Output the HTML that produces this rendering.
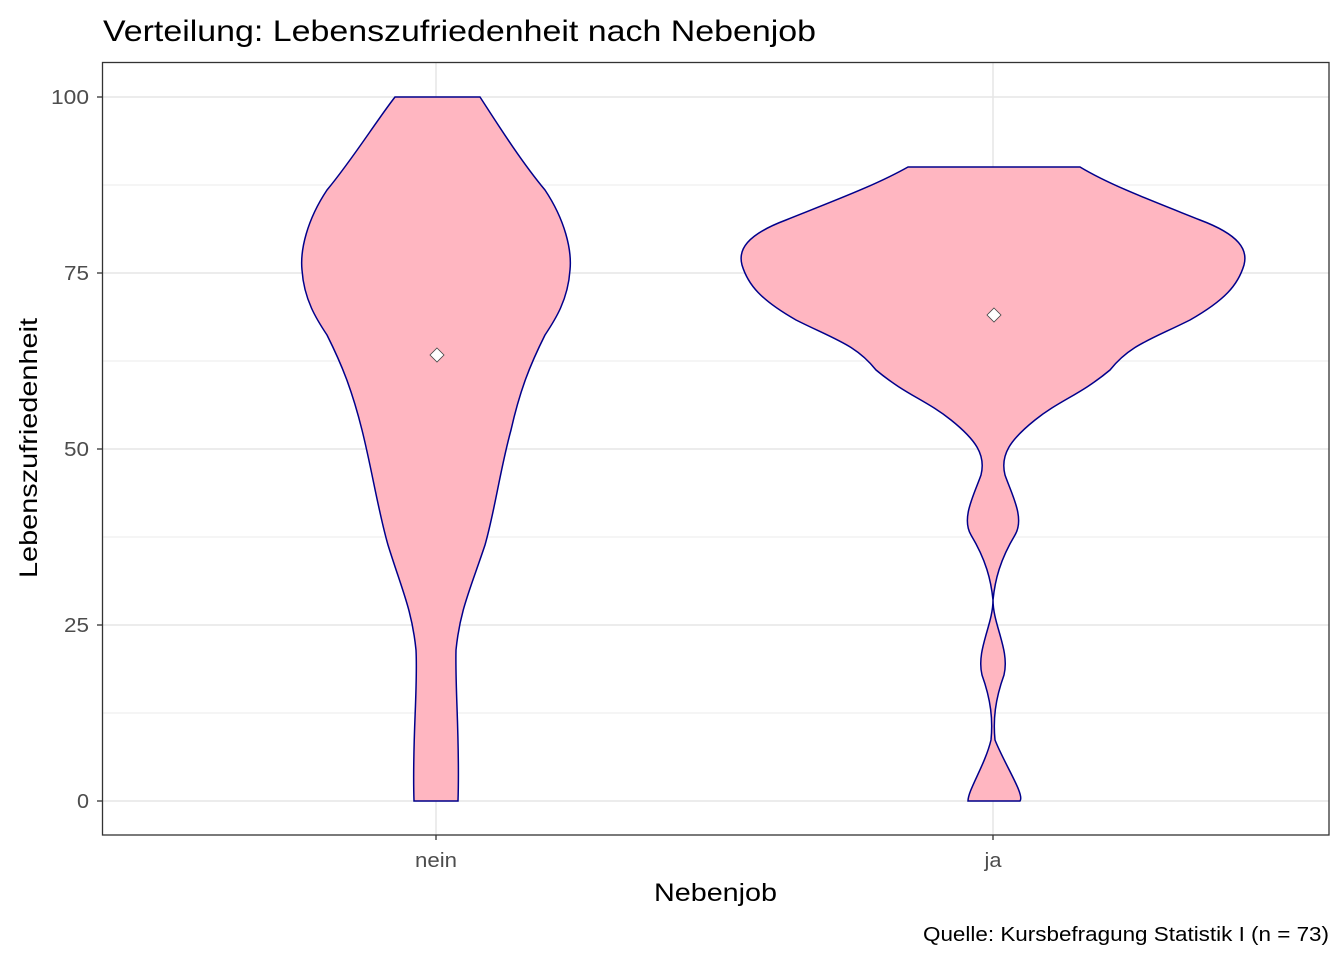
<!DOCTYPE html>
<html><head><style>body{margin:0;background:#fff}</style></head><body>
<svg width="1344" height="960" xmlns="http://www.w3.org/2000/svg" font-family="Liberation Sans, sans-serif">
<rect width="1344" height="960" fill="#fff"/>
<g stroke="#ebebeb" stroke-width="1">
<line x1="102" x2="1329" y1="185" y2="185"/><line x1="102" x2="1329" y1="361" y2="361"/>
<line x1="102" x2="1329" y1="537" y2="537"/><line x1="102" x2="1329" y1="713" y2="713"/>
</g>
<g stroke="#e5e5e5" stroke-width="1.5">
<line x1="102" x2="1329" y1="97" y2="97"/><line x1="102" x2="1329" y1="273" y2="273"/>
<line x1="102" x2="1329" y1="449" y2="449"/><line x1="102" x2="1329" y1="625" y2="625"/>
<line x1="102" x2="1329" y1="801" y2="801"/>
<line x1="436" x2="436" y1="62" y2="835"/><line x1="993" x2="993" y1="62" y2="835"/>
</g>
<path fill="#ffb6c1" stroke="#00008b" stroke-width="1.5" d="M395,97 L480,97 C495,120 520,160 545,190 C565,220 572,250 570,270 C568,300 555,320 545,335 C530,365 520,390 511,430 C500,470 495,510 485,545 C470,590 460,610 456,650 C455,690 460,740 458,801 L414,801 C412,740 418,690 416,650 C412,610 402,590 388,545 C378,510 372,470 362,430 C352,390 342,365 327,335 C317,320 304,300 302,270 C300,250 307,220 327,190 C352,160 377,120 395,97 Z"/>
<path fill="#ffb6c1" stroke="#00008b" stroke-width="1.5" d="M908,167 L1080,167 C1110,185 1150,200 1200,220 C1240,235 1248,250 1244,265 C1238,285 1225,300 1190,320 C1150,340 1130,345 1110,370 C1080,395 1060,400 1035,420 C1010,440 1000,455 1005,475 C1012,495 1025,518 1015,535 C1000,560 995,580 993,600 C993,625 1010,650 1004,675 C995,700 993,720 995,740 C1005,765 1025,795 1020,801 L968,801 C968,790 985,765 991,740 C993,720 991,700 982,675 C976,650 993,625 993,600 C991,580 986,560 971,535 C961,518 974,495 981,475 C986,455 976,440 951,420 C926,400 906,395 876,370 C856,345 836,340 796,320 C761,300 748,285 742,265 C738,250 746,235 786,220 C836,200 876,185 908,167 Z"/>
<path d="M437,348 L444,355 L437,362 L430,355 Z" fill="#fff" stroke="#444" stroke-width="0.8"/>
<path d="M994,308 L1001,315 L994,322 L987,315 Z" fill="#fff" stroke="#444" stroke-width="0.8"/>
<rect x="102.5" y="62.5" width="1226.5" height="772.5" fill="none" stroke="#333" stroke-width="1.3"/>
<g stroke="#333" stroke-width="1.3">
<line x1="97" x2="102" y1="97" y2="97"/><line x1="97" x2="102" y1="273" y2="273"/><line x1="97" x2="102" y1="449" y2="449"/><line x1="97" x2="102" y1="625" y2="625"/><line x1="97" x2="102" y1="801" y2="801"/>
<line x1="436" x2="436" y1="835" y2="840"/><line x1="993" x2="993" y1="835" y2="840"/>
</g>
<g font-size="20" fill="#4d4d4d" text-anchor="end" lengthAdjust="spacingAndGlyphs">
<text x="89" y="104" textLength="38" lengthAdjust="spacingAndGlyphs">100</text><text x="89" y="280" textLength="25" lengthAdjust="spacingAndGlyphs">75</text><text x="89" y="456" textLength="25" lengthAdjust="spacingAndGlyphs">50</text><text x="89" y="632" textLength="25" lengthAdjust="spacingAndGlyphs">25</text><text x="89" y="808" textLength="12" lengthAdjust="spacingAndGlyphs">0</text>
</g>
<g font-size="20" fill="#4d4d4d" text-anchor="middle"><text x="436" y="867" textLength="42" lengthAdjust="spacingAndGlyphs">nein</text><text x="993" y="867" textLength="17" lengthAdjust="spacingAndGlyphs">ja</text></g>
<text x="654" y="901" font-size="25" textLength="123" lengthAdjust="spacingAndGlyphs">Nebenjob</text>
<text transform="translate(37,578) rotate(-90)" font-size="25" textLength="260" lengthAdjust="spacingAndGlyphs">Lebenszufriedenheit</text>
<text x="103" y="41" font-size="30" textLength="713" lengthAdjust="spacingAndGlyphs">Verteilung: Lebenszufriedenheit nach Nebenjob</text>
<text x="923" y="941" font-size="20" textLength="406" lengthAdjust="spacingAndGlyphs">Quelle: Kursbefragung Statistik I (n = 73)</text>
</svg>
</body></html>
